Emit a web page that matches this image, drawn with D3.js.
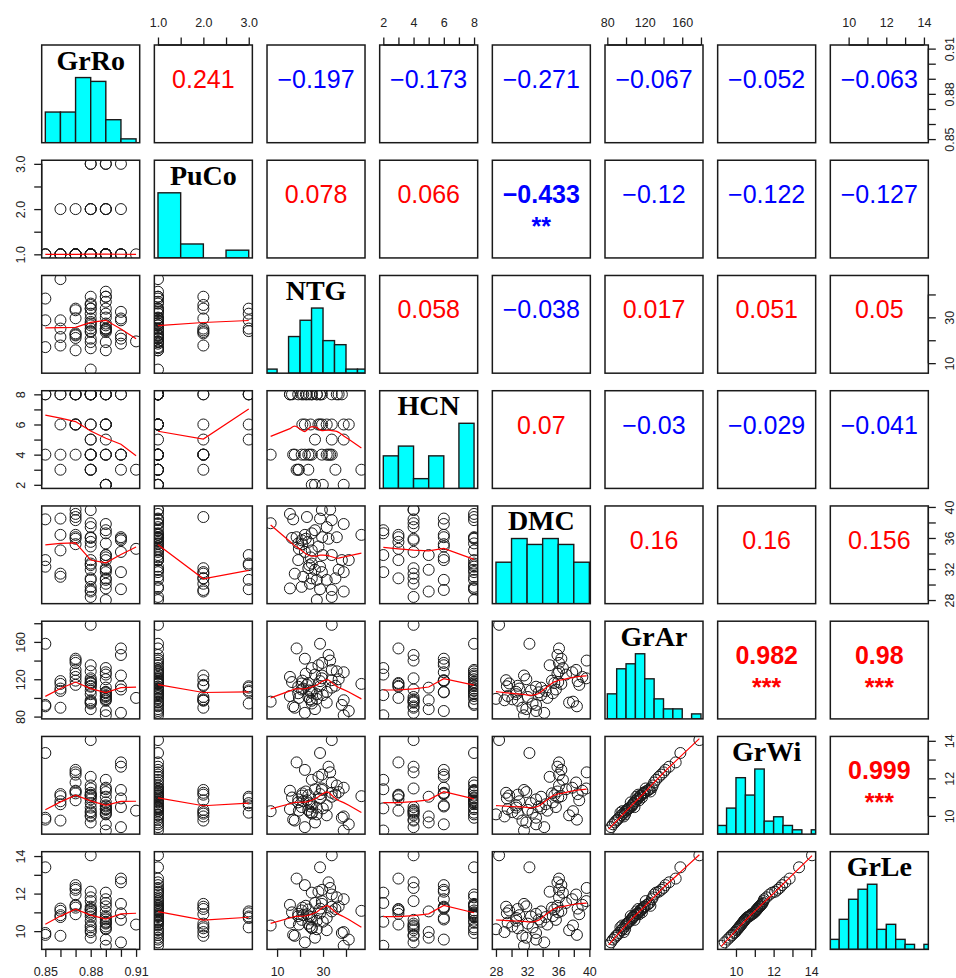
<!DOCTYPE html>
<meta charset="utf-8">
<style>
  body { margin: 0; background: #fff; }
</style>
<script src="https://d3js.org/d3.v7.min.js"></script>
<div id="pairs"></div>
<script>
  // variable names in panel order
  var vars = ["GrRo", "PuCo", "NTG", "HCN", "DMC", "GrAr", "GrWi", "GrLe"];

  var GrRo = [0.88, 0.87, 0.88, 0.87, 0.86, 0.87, 0.88, 0.89, 0.88, 0.86,
              0.90, 0.90, 0.87, 0.89, 0.88, 0.89, 0.89, 0.87, 0.90, 0.88,
              0.86, 0.90, 0.89, 0.89, 0.85, 0.89, 0.88, 0.88, 0.85, 0.89,
              0.88, 0.90, 0.89, 0.89, 0.86, 0.86, 0.89, 0.88, 0.89, 0.88,
              0.89, 0.88, 0.89, 0.90, 0.88, 0.88, 0.89, 0.88, 0.85, 0.91,
              0.88, 0.87, 0.87, 0.88, 0.87, 0.89];
  var PuCo = [1, 1, 1, 1, 1, 1, 1, 1, 1, 1,
              1, 1, 1, 1, 1, 1, 1, 1, 1, 1,
              1, 1, 1, 3, 1, 1, 1, 3, 1, 2,
              1, 2, 1, 1, 2, 1, 2, 1, 3, 2,
              1, 1, 2, 3, 2, 2, 1, 1, 1, 1,
              1, 1, 1, 3, 2, 1];
  var NTG = [7.2, 15.6, 29.5, 33.1, 28.7, 33.8, 31.6, 39.0, 36.0, 46.7,
             18.5, 20.7, 22.1, 19.2, 23.6, 25.1, 26.5, 29.6, 32.4, 28.0,
             25.1, 22.1, 29.9, 33.8, 38.2, 41.2, 19.2, 25.1, 28.7, 23.6,
             26.5, 29.5, 36.8, 39.0, 17.7, 21.4, 25.1, 27.3, 31.6, 35.4,
             15.6, 20.7, 24.3, 28.7, 33.8, 39.0, 27.3, 33.8, 17.0, 19.5,
             16.5, 21.0, 22.5, 24.0, 23.0, 24.6];
  var HCN = [4, 8, 4, 4, 6, 8, 4, 6, 8, 3,
             3, 4, 6, 8, 3, 2, 2, 6, 4, 6,
             8, 4, 2, 5, 8, 6, 3, 8, 8, 4,
             5, 8, 8, 2, 4, 8, 4, 8, 6, 3,
             8, 8, 4, 8, 6, 5, 8, 4, 4, 3,
             8, 6, 8, 8, 8, 6];
  var DMC = [37.9, 39.1, 39.6, 39.66, 38.5, 38.3, 37.4, 37.8, 36.1, 36.4,
             36.1, 35.7, 36.4, 35.3, 35.5, 36.6, 37.0, 36.1, 35.9, 34.9,
             34.4, 34.2, 33.8, 33.8, 33.15, 33.15, 33.15, 32.7, 32.3, 32.1,
             31.9, 31.6, 31.9, 31.6, 31.4, 31.0, 30.8, 30.6, 30.6, 30.8,
             29.5, 29.7, 30.1, 29.4, 29.3, 29.1, 28.0, 28.4, 38.4, 34.6,
             36.0, 35.2, 35.9, 32.5, 38.7, 33.5];
  var GrAr = [96, 122.5, 121, 140, 118, 130, 95, 127.5, 128.5, 115,
              153, 109, 142, 105, 116, 132, 125, 137.5, 146, 135,
              107.5, 84, 103, 111, 92.5, 86, 112, 94, 158, 101,
              88, 124, 120, 81.4, 89.5, 110, 97, 104, 106.5, 113,
              102, 115.5, 98.5, 112.5, 119, 97.5, 99, 178.3, 91, 100,
              117, 118.5, 126, 108, 114, 106];
  var GrWi = [10.25, 11.34, 11.46, 12.32, 11.16, 11.78, 10.03, 11.5, 11.62, 11.05,
              12.85, 10.47, 12.45, 10.72, 11.1, 11.92, 11.42, 12.2, 12.62, 12.08,
              10.62, 9.4, 10.4, 11.02, 9.9, 9.55, 10.88, 10.17, 13.35, 10.32,
              9.65, 11.38, 11.27, 9.22, 9.75, 10.78, 10.12, 10.44, 10.56, 11.13,
              10.36, 11.08, 10.2, 10.93, 11.23, 9.97, 10.08, 14.04, 9.8, 10.28,
              10.98, 11.2, 11.3, 10.68, 10.83, 10.5];
  var GrLe = [10.3, 11.4, 11.6, 12.3, 11.2, 11.95, 10.05, 11.7, 11.8, 11.08,
              12.8, 10.6, 12.45, 10.8, 11.15, 12.05, 11.5, 12.2, 12.6, 12.1,
              10.75, 9.4, 10.5, 11.05, 9.9, 9.55, 10.92, 10.2, 13.4, 10.4,
              9.65, 11.45, 11.32, 9.22, 9.75, 10.85, 10.15, 10.55, 10.7, 11.18,
              10.45, 11.1, 10.25, 10.95, 11.3, 9.95, 10.1, 14.04, 9.8, 10.35,
              11.0, 11.25, 11.35, 10.78, 10.9, 10.62];

  // histogram break points
  var GrRoBreaks = [0.85, 0.86, 0.87, 0.88, 0.89, 0.90, 0.91];
  var PuCoBreaks = [1, 1.5, 2, 2.5, 3];
  var NTGBreaks = [5, 10, 15, 20, 25, 30, 35, 40, 45, 50];
  var HCNBreaks = [2, 3, 4, 5, 6, 7, 8];
  var DMCBreaks = [28, 30, 32, 34, 36, 38, 40];
  var GrArBreaks = [80, 90, 100, 110, 120, 130, 140, 150, 160, 170, 180];
  var GrWiBreaks = [9, 9.5, 10, 10.5, 11, 11.5, 12, 12.5, 13, 13.5, 14, 14.5];
  var GrLeBreaks = [9, 9.5, 10, 10.5, 11, 11.5, 12, 12.5, 13, 13.5, 14, 14.5];

  // axis ticks and their printed labels ("" = tick without label)
  var GrRoTicks = [0.85, 0.86, 0.87, 0.88, 0.89, 0.90, 0.91];
  var GrRoTickText = ["0.85", "", "", "0.88", "", "", "0.91"];
  var PuCoTicks = [1, 1.5, 2, 2.5, 3];
  var PuCoTickText = ["1.0", "", "2.0", "", "3.0"];
  var NTGTicks = [10, 20, 30, 40];
  var NTGTickText = ["10", "", "30", ""];
  var HCNTicks = [2, 3, 4, 5, 6, 7, 8];
  var HCNTickText = ["2", "", "4", "", "6", "", "8"];
  var DMCTicks = [28, 30, 32, 34, 36, 38, 40];
  var DMCTickText = ["28", "", "32", "", "36", "", "40"];
  var GrArTicks = [80, 100, 120, 140, 160, 180];
  var GrArTickText = ["80", "", "120", "", "160", ""];
  var GrWiTicks = [10, 11, 12, 13, 14];
  var GrWiTickText = ["10", "", "12", "", "14"];
  var GrLeTicks = [10, 11, 12, 13, 14];
  var GrLeTickText = ["10", "", "12", "", "14"];

  // printed correlations, upper triangle row by row
  var corrValues = [0.241, -0.197, -0.173, -0.271, -0.067, -0.052, -0.063,
                    0.078, 0.066, -0.433, -0.12, -0.122, -0.127,
                    0.058, -0.038, 0.017, 0.051, 0.05,
                    0.07, -0.03, -0.029, -0.041,
                    0.16, 0.16, 0.156,
                    0.982, 0.98,
                    0.999];
  var corrStars = ["", "", "", "", "", "", "",
                   "", "", "**", "", "", "",
                   "", "", "", "", "",
                   "", "", "", "",
                   "", "", "",
                   "***", "***",
                   "***"];

  var data = {GrRo: GrRo, PuCo: PuCo, NTG: NTG, HCN: HCN, DMC: DMC, GrAr: GrAr, GrWi: GrWi, GrLe: GrLe};
  var breaks = {GrRo: GrRoBreaks, PuCo: PuCoBreaks, NTG: NTGBreaks, HCN: HCNBreaks,
                DMC: DMCBreaks, GrAr: GrArBreaks, GrWi: GrWiBreaks, GrLe: GrLeBreaks};
  var ticks = {GrRo: [GrRoTicks, GrRoTickText], PuCo: [PuCoTicks, PuCoTickText],
               NTG: [NTGTicks, NTGTickText], HCN: [HCNTicks, HCNTickText],
               DMC: [DMCTicks, DMCTickText], GrAr: [GrArTicks, GrArTickText],
               GrWi: [GrWiTicks, GrWiTickText], GrLe: [GrLeTicks, GrLeTickText]};

  // panel grid
  var x0 = 41.7, dx = 112.66, y0 = 45, dy = 115.24, pw = 98, ph = 97.7;
  var sansFont = '"Liberation Sans", Arial, Helvetica, sans-serif';
  var serifFont = '"Liberation Serif", "Times New Roman", Times, serif';
  var ink = "#1a1a1a";

  function colX(j) { return x0 + j * dx; }
  function rowY(i) { return y0 + i * dy; }

  // R style 4% padded range
  function padded(v) {
    var e = d3.extent(v), r = e[1] - e[0];
    return [e[0] - 0.04 * r, e[1] + 0.04 * r];
  }

  // right-closed histogram counts like R's hist()
  function rHist(values, br) {
    var fuzz = 1e-7 * d3.median(d3.pairs(br, function(a, b) { return b - a; }));
    var fb = br.map(function(b, k) { return k === 0 ? b - fuzz : b + fuzz; });
    var counts = br.slice(1).map(function() { return 0; });
    values.forEach(function(v) {
      for (var k = 0; k < counts.length; k++) {
        if (v > fb[k] && v <= fb[k + 1]) { counts[k]++; break; }
      }
    });
    return counts;
  }

  // port of R's lowess (clowess), f = 2/3, iter = 3
  function lowest(x, y, n, xs, nleft, nright, w, userw, rw) {
    var range = x[n] - x[1];
    var h = Math.max(xs - x[nleft], x[nright] - xs);
    var h9 = 0.999 * h, h1 = 0.001 * h;
    var a = 0, j = nleft;
    while (j <= n) {
      w[j] = 0;
      var r = Math.abs(x[j] - xs);
      if (r <= h9) {
        if (r <= h1) w[j] = 1;
        else { var q = r / h; q = 1 - q * q * q; w[j] = q * q * q; }
        if (userw) w[j] *= rw[j];
        a += w[j];
      } else if (x[j] > xs) break;
      j++;
    }
    var nrt = j - 1;
    if (a <= 0) return null;
    for (j = nleft; j <= nrt; j++) w[j] /= a;
    if (h > 0) {
      a = 0;
      for (j = nleft; j <= nrt; j++) a += w[j] * x[j];
      var b = xs - a, c = 0;
      for (j = nleft; j <= nrt; j++) c += w[j] * (x[j] - a) * (x[j] - a);
      if (Math.sqrt(c) > 0.001 * range) {
        b /= c;
        for (j = nleft; j <= nrt; j++) w[j] *= (b * (x[j] - a) + 1);
      }
    }
    var out = 0;
    for (j = nleft; j <= nrt; j++) out += w[j] * y[j];
    return out;
  }

  function lowess(xIn, yIn, f, nsteps) {
    var n = xIn.length;
    var o = d3.range(n).sort(function(a, b) { return (xIn[a] - xIn[b]) || (a - b); });
    var x = [0].concat(o.map(function(k) { return xIn[k]; }));
    var y = [0].concat(o.map(function(k) { return yIn[k]; }));
    var ys = new Array(n + 1).fill(0), rw = new Array(n + 1).fill(1);
    var w = new Array(n + 1).fill(0), res = new Array(n + 1).fill(0);
    var ns = Math.max(2, Math.min(n, Math.floor(f * n + 1e-7)));
    var delta = 0.01 * (x[n] - x[1]);
    var iter = 1, i, j;
    while (iter <= nsteps + 1) {
      var nleft = 1, nright = ns, last = 0;
      i = 1;
      for (;;) {
        if (nright < n) {
          var d1 = x[i] - x[nleft], d2 = x[nright + 1] - x[i];
          if (d1 > d2) { nleft++; nright++; continue; }
        }
        var v = lowest(x, y, n, x[i], nleft, nright, w, iter > 1, rw);
        ys[i] = v === null ? y[i] : v;
        if (last < i - 1) {
          var denom = x[i] - x[last];
          for (j = last + 1; j < i; j++) {
            var alpha = (x[j] - x[last]) / denom;
            ys[j] = alpha * ys[i] + (1 - alpha) * ys[last];
          }
        }
        last = i;
        var cut = x[last] + delta;
        for (i = last + 1; i <= n; i++) {
          if (x[i] > cut) break;
          if (x[i] === x[last]) { ys[i] = ys[last]; last = i; }
        }
        i = Math.max(last + 1, i - 1);
        if (last >= n) break;
      }
      for (i = 1; i <= n; i++) res[i] = y[i] - ys[i];
      var sc = d3.mean(res.slice(1), Math.abs);
      if (iter > nsteps) break;
      var sorted = res.slice(1).map(Math.abs).sort(d3.ascending);
      var m1 = Math.floor(n / 2), cmad;
      if (n % 2 === 0) cmad = 3 * (sorted[m1] + sorted[n - m1 - 1]);
      else cmad = 6 * sorted[m1];
      if (cmad < 1e-7 * sc) break;
      var c9 = 0.999 * cmad, c1 = 0.001 * cmad;
      for (i = 1; i <= n; i++) {
        var r = Math.abs(res[i]);
        rw[i] = r <= c1 ? 1 : (r <= c9 ? Math.pow(1 - (r / cmad) * (r / cmad), 2) : 0);
      }
      iter++;
    }
    return d3.range(1, n + 1).map(function(k) { return [x[k], ys[k]]; });
  }

  var svg = d3.select("#pairs").append("svg")
      .attr("width", 956).attr("height", 978)
      .style("background", "#fff");
  var defs = svg.append("defs");

  var xScales = vars.map(function(v, j) {
    return d3.scaleLinear().domain(padded(data[v])).range([colX(j), colX(j) + pw]);
  });
  var yScales = vars.map(function(v, i) {
    return d3.scaleLinear().domain(padded(data[v])).range([rowY(i) + ph, rowY(i)]);
  });

  var k = 0;
  vars.forEach(function(vy, i) {
    vars.forEach(function(vx, j) {
      var px = colX(j), py = rowY(i);
      var clipId = "clip-" + i + "-" + j;
      defs.append("clipPath").attr("id", clipId)
        .append("rect").attr("x", px).attr("y", py).attr("width", pw).attr("height", ph);
      var g = svg.append("g");
      var inner = g.append("g").attr("clip-path", "url(#" + clipId + ")");

      if (i === j) {
        // histogram + name
        var br = breaks[vx];
        var counts = rHist(data[vx], br);
        var cmax = d3.max(counts);
        var hy = d3.scaleLinear().domain([0, 1.5]).range([py + ph, py]);
        var xs = xScales[j];
        inner.selectAll("rect.bar")
          .data(counts)
          .enter().append("rect")
          .attr("class", "bar")
          .attr("x", function(d, b) { return xs(br[b]); })
          .attr("width", function(d, b) { return xs(br[b + 1]) - xs(br[b]); })
          .attr("y", function(d) { return hy(d / cmax); })
          .attr("height", function(d) { return hy(0) - hy(d / cmax); })
          .attr("fill", "#00ffff")
          .attr("stroke", ink)
          .attr("stroke-width", 1.4)
          .style("display", function(d) { return d > 0 ? null : "none"; });
        g.append("text")
          .attr("x", px + pw / 2).attr("y", py + 24.5)
          .attr("text-anchor", "middle")
          .style("font-family", serifFont)
          .style("font-weight", "bold")
          .style("font-size", "28px")
          .attr("fill", "#000")
          .text(vx);
      } else if (i > j) {
        // scatter + lowess
        var sx = xScales[j], sy = yScales[i];
        var xv = data[vx], yv = data[vy];
        inner.selectAll("circle")
          .data(d3.range(xv.length))
          .enter().append("circle")
          .attr("cx", function(d) { return sx(xv[d]); })
          .attr("cy", function(d) { return sy(yv[d]); })
          .attr("r", 5.5)
          .attr("fill", "none")
          .attr("stroke", ink)
          .attr("stroke-width", 1);
        var sm = lowess(xv, yv, 2 / 3, 3);
        inner.append("path")
          .attr("d", d3.line().x(function(d) { return sx(d[0]); }).y(function(d) { return sy(d[1]); })(sm))
          .attr("fill", "none")
          .attr("stroke", "#ff0000")
          .attr("stroke-width", 1.2);
      } else {
        // correlation text
        var r = corrValues[k], stars = corrStars[k];
        k++;
        var col = r < 0 ? "#0000ff" : "#ff0000";
        var weight = stars ? "bold" : "normal";
        g.append("text")
          .attr("x", px + pw / 2).attr("y", py + 43)
          .attr("text-anchor", "middle")
          .style("font-family", sansFont)
          .style("font-size", "25px")
          .style("font-weight", weight)
          .attr("fill", col)
          .text(String(r).replace("-", "\u2212"));
        if (stars) {
          g.append("text")
            .attr("x", px + pw / 2).attr("y", py + 75)
            .attr("text-anchor", "middle")
            .style("font-family", sansFont)
            .style("font-size", "25px")
            .style("font-weight", "bold")
            .attr("fill", col)
            .text(stars);
        }
      }

      g.append("rect")
        .attr("x", px).attr("y", py).attr("width", pw).attr("height", ph)
        .attr("fill", "none")
        .attr("stroke", ink)
        .attr("stroke-width", 1.5);
    });
  });

  // outer axes, alternating like pairs()
  function drawAxis(orient, scale, v, tx, ty) {
    var t = ticks[v][0], lab = ticks[v][1];
    var maker = {top: d3.axisTop, bottom: d3.axisBottom, left: d3.axisLeft, right: d3.axisRight}[orient];
    var ax = maker(scale).tickValues(t).tickSizeInner(7.5).tickSizeOuter(0).tickPadding(10.4)
      .tickFormat(function(d, n) { return lab[n]; });
    var g = svg.append("g").attr("transform", "translate(" + tx + "," + ty + ")").call(ax);
    var horiz = orient === "top" || orient === "bottom";
    var a = scale(t[0]), b = scale(t[t.length - 1]);
    g.select(".domain").attr("d", horiz ? "M" + a + ",0H" + b : "M0," + a + "V" + b);
    g.selectAll(".domain, line").attr("stroke", ink).attr("stroke-width", 1.3);
    g.selectAll("text")
      .attr("fill", "#222")
      .style("font-family", sansFont)
      .style("font-size", "12.5px");
    if (!horiz) {
      var off = orient === "left" ? -21 : 21.7;
      g.selectAll("text")
        .attr("transform", "rotate(-90)")
        .attr("x", 0).attr("y", off).attr("dy", "0.35em")
        .attr("text-anchor", "middle");
    }
  }

  vars.forEach(function(v, n) {
    var sx = xScales[n].copy().range([0, pw]);
    var sy = yScales[n].copy().range([ph, 0]);
    if (n % 2 === 1) {
      drawAxis("top", sx, v, colX(n), rowY(0));
      drawAxis("left", sy, v, colX(0), rowY(n));
    } else {
      drawAxis("bottom", sx, v, colX(n), rowY(7) + ph);
      drawAxis("right", sy, v, colX(7) + pw, rowY(n));
    }
  });
</script>
